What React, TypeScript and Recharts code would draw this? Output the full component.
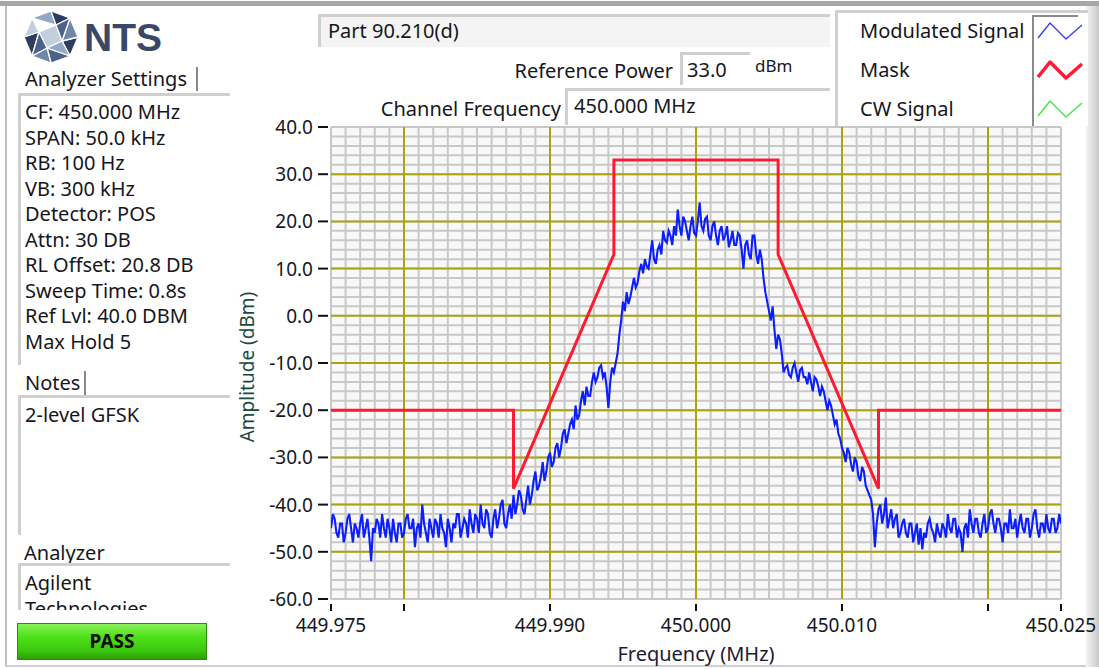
import { LineChart, Line, XAxis, YAxis, CartesianGrid } from 'recharts'

// sweep grid of the analyzer trace (MHz)
const SWEEP_START = 449.975
const SWEEP_STEP = 0.000125

// Max-hold trace, dBm, one value per sweep point
const modulatedSignal = [
  -45, -42, -43, -46, -47, -44, -44, -48, -46, -43,
  -42, -45, -48, -44, -45, -47, -44, -42, -47, -45,
  -43, -47, -52, -45, -46, -43, -44, -47, -42, -45,
  -47, -43, -45, -48, -43, -46, -48, -44, -44, -47,
  -46, -43, -42, -45, -45, -43, -49, -45, -44, -47,
  -40, -44, -46, -48, -43, -45, -47, -43, -44, -47,
  -42, -45, -46, -49, -43, -45, -48, -44, -45, -42,
  -42, -47, -45, -43, -44, -47, -41, -44, -46, -42,
  -43, -46, -40, -44, -45, -41, -42, -46, -47, -43,
  -41, -45, -43, -40, -39, -44, -45, -42, -40, -43,
  -38, -42, -40, -37, -38, -41, -42, -39, -36, -40,
  -38, -35, -33, -37, -36, -34, -31, -35, -33, -30,
  -29, -32, -31, -28, -27, -30, -28, -25, -24, -27,
  -25, -23, -22, -24, -19, -22, -21, -18, -16, -19,
  -15, -17, -17, -14, -12, -14, -13, -11, -10.5, -13,
  -12, -15, -19.5, -14, -11, -12, -10, -8, -4, -1,
  3, 1, 5, 2.5, 4, 6, 8, 6, 7, 9.5,
  11, 9, 12, 10.5, 10, 13, 16, 12, 11, 14,
  15, 13, 18, 16, 15.5, 18, 17, 15, 19, 17,
  22.5, 19, 17, 21, 20, 18, 16, 19, 21, 17.5,
  17, 20, 24, 19, 18, 20.5, 21, 17, 16, 19,
  20, 17, 15, 18, 19, 16, 17, 19, 14.5, 16,
  18, 15, 15, 17.5, 17, 14, 10, 15, 16, 13,
  12, 17, 17, 13, 11, 14, 12, 8, 5, 3,
  1, -1, 2, -3, -7, -4, -5, -8, -12, -11,
  -10.5, -12.5, -13, -11, -10, -12, -14, -11.5, -11, -13,
  -13, -14.5, -12, -14, -16, -13, -13.5, -15, -17, -15,
  -16, -18, -20, -18, -19, -21, -23, -22, -25, -26,
  -28, -29, -31, -28, -29, -31.5, -33, -30, -31, -34,
  -35, -32, -33, -36, -37, -38, -39, -42, -49, -44,
  -41, -40, -44, -42, -38.5, -45, -43, -41, -45, -43,
  -42, -47, -46, -44, -43, -46, -47, -44, -44, -48,
  -46, -44, -48.5, -45, -49.5, -46, -47, -44, -43, -45,
  -46, -48, -44, -46, -47, -44, -45, -47, -42, -45,
  -46, -43, -43, -47, -45, -46, -50, -45, -44, -47,
  -41, -44, -46, -43, -43, -46, -47, -44, -42, -46,
  -45, -42, -41, -44, -46, -43, -43, -45, -48, -44,
  -44, -46, -41, -45, -45, -43, -47, -44, -42, -45,
  -46, -43, -43, -47, -45, -42, -41, -45, -47, -44,
  -44, -46, -42, -45, -46, -43, -43, -46, -45, -42,
  -44,
]

// Part 90.210(d) mask
const maskFreq = [449.975, 449.9875, 449.9875, 449.994375, 449.994375, 450.005625, 450.005625, 450.0125, 450.0125, 450.025]
const maskLevel = [-20, -20, -36.6, 13, 33, 33, 13, -36.6, -20, -20]

const freqTicks = [449.975, 449.98, 449.99, 450.0, 450.01, 450.02, 450.025]
const freqTickLabels = ['449.975', '', '449.990', '450.000', '450.010', '', '450.025']
const ampTicks = [-60, -50, -40, -30, -20, -10, 0, 10, 20, 30, 40]
const majorFreq = [449.98, 449.99, 450.0, 450.01, 450.02]
const majorAmp = [-50, -40, -30, -20, -10, 0, 10, 20, 30]
const minorFreq = Array.from({ length: 51 }, (_, k) => +(449.975 + k * 0.001).toFixed(3))
const minorAmp = Array.from({ length: 51 }, (_, k) => -60 + k * 2)

const settings = [
  'CF: 450.000 MHz', 'SPAN: 50.0 kHz', 'RB: 100 Hz', 'VB: 300 kHz', 'Detector: POS',
  'Attn: 30 DB', 'RL Offset: 20.8 DB', 'Sweep Time: 0.8s', 'Ref Lvl: 40.0 DBM', 'Max Hold 5',
]

const signalData = modulatedSignal.map((v, i) => ({ f: +(SWEEP_START + i * SWEEP_STEP).toFixed(6), v }))
const maskData = maskFreq.map((f, i) => ({ f, v: maskLevel[i] }))

const FONT = '"Noto Sans", "Open Sans", sans-serif'
const INK = '#161620'
const BEVEL = '#cfcfcf'

const abs = (left: number, top: number, extra: React.CSSProperties = {}): React.CSSProperties => ({
  position: 'absolute', left, top, ...extra,
})

function FreqTick(props: any) {
  const { x, y, index } = props
  const label = freqTickLabels[index]
  return (
    <g>
      <line x1={x} x2={x} y1={y + 5} y2={y + 12} stroke="#111" strokeWidth={2} />
      {label && (
        <text x={x} y={y + 33} textAnchor="middle" fontSize={19} fontFamily={FONT} fill={INK}>
          {label}
        </text>
      )}
    </g>
  )
}

function AmpTick(props: any) {
  const { x, y, payload } = props
  return (
    <g>
      <line x1={x - 13} x2={x - 3} y1={y} y2={y} stroke="#111" strokeWidth={2} />
      <text x={x - 18} y={y} textAnchor="end" dominantBaseline="central" fontSize={19} fontFamily={FONT} fill={INK}>
        {Number(payload.value).toFixed(1)}
      </text>
    </g>
  )
}

function Logo() {
  const c = ['#2d3c63', '#6f88aa', '#c3cfdd', '#4b628a', '#93a8c4']
  // facets of the sphere, centred at 51,37
  const facets: [string, string][] = [
    ['78,37 70,56 62,41', c[0]],
    ['70,56 51,63 47,48', c[3]],
    ['51,63 32,56 47,48', c[1]],
    ['32,56 24,37 39,32', c[0]],
    ['24,37 32,18 39,32', c[2]],
    ['32,18 51,11 56,25', c[4]],
    ['51,11 70,18 56,25', c[0]],
    ['70,18 78,37 62,41', c[1]],
    ['62,41 47,48 39,32 56,25', c[2]],
    ['62,41 70,56 47,48', c[4]],
    ['39,32 32,56 47,48', c[3]],
    ['56,25 70,18 62,41', c[3]],
  ]
  return (
    <svg width={200} height={70} style={abs(0, 0)}>
      {facets.map(([p, fill], k) => (
        <polygon key={k} points={p} fill={fill} stroke="#fff" strokeWidth={1.3} strokeLinejoin="round" />
      ))}
      <text x={84} y={51} fontSize={39} fontWeight={700} fontFamily='"Liberation Sans", Arial, sans-serif' fill="#3a4868">NTS</text>
    </svg>
  )
}

function LegendIcon({ color, width, top }: { color: string; width: number; top: number }) {
  return (
    <svg width={48} height={22} style={abs(1036, top)}>
      <polyline points="2,18 14,3 30,19 46,5" fill="none" stroke={color} strokeWidth={width} strokeLinejoin="round" />
    </svg>
  )
}

export default function App() {
  const text: React.CSSProperties = { fontFamily: FONT, fontSize: 20, color: INK, lineHeight: '25.5px', whiteSpace: 'nowrap' }
  const box = (left: number, top: number, width: number, height: number, bg = '#fff'): React.CSSProperties =>
    abs(left, top, {
      width, height, background: bg, borderTop: `3px solid ${BEVEL}`, borderLeft: `3px solid ${BEVEL}`,
      boxSizing: 'border-box', overflow: 'hidden',
    })

  return (
    <div style={abs(0, 0, { width: 1099, height: 669, background: '#fff', overflow: 'hidden', ...text })}>
      {/* panel frame */}
      <div style={abs(0, 1, { width: 1099, height: 5, background: '#a7a7a7' })} />
      <div style={abs(5, 6, { width: 2, height: 660, background: '#bdbdbd' })} />
      <div style={abs(5, 665, { width: 1084, height: 2, background: '#cfcfcf' })} />
      <div style={abs(1086, 6, { width: 13, height: 661, background: 'linear-gradient(90deg,#f4f4f4,#c9c9c9)' })} />

      <Logo />

      {/* left column */}
      <div style={abs(22, 67, { height: 24, paddingLeft: 3, paddingRight: 9, borderRight: '2px solid #8a8a8a', lineHeight: '24px' })}>Analyzer Settings</div>
      <div style={box(18, 93, 212, 272)}>
        <div style={{ paddingTop: 3, paddingLeft: 4 }}>
          {settings.map((s) => <div key={s}>{s}</div>)}
        </div>
      </div>
      <div style={abs(22, 371, { height: 24, paddingLeft: 3, paddingRight: 4, borderRight: '2px solid #8a8a8a', lineHeight: '24px' })}>Notes</div>
      <div style={box(18, 395, 212, 140)}>
        <div style={{ paddingTop: 4, paddingLeft: 4 }}>2-level GFSK</div>
      </div>
      <div style={abs(24, 540)}>Analyzer</div>
      <div style={box(18, 563, 212, 47)}>
        <div style={{ paddingTop: 4, paddingLeft: 4 }}>
          <div>Agilent</div>
          <div>Technologies</div>
        </div>
      </div>
      <div
        style={abs(17, 623, {
          width: 190, height: 37, boxSizing: 'border-box', border: '1px solid #2c8c0c',
          background: 'linear-gradient(180deg,#8af25a 0%,#4fe21a 35%,#3cc80e 75%,#2c9e08 100%)',
          textAlign: 'center', lineHeight: '35px', fontWeight: 700, fontSize: 19, color: '#0a0a0a',
        })}
      >
        PASS
      </div>

      {/* header fields */}
      <div style={box(318, 14, 512, 33, '#f4f4f4')}>
        <div style={{ paddingLeft: 7, lineHeight: '28px' }}>Part 90.210(d)</div>
      </div>
      <div style={abs(470, 58, { width: 203, textAlign: 'right' })}>Reference Power</div>
      <div style={box(680, 52, 70, 33)}>
        <div style={{ paddingLeft: 4, lineHeight: '30px' }}>33.0</div>
      </div>
      <div style={abs(755, 53, { fontSize: 17 })}>dBm</div>
      <div style={abs(340, 96, { width: 221, textAlign: 'right' })}>Channel Frequency</div>
      <div style={box(565, 88, 265, 37)}>
        <div style={{ paddingLeft: 6, lineHeight: '30px' }}>450.000 MHz</div>
      </div>

      {/* legend */}
      <div style={box(835, 10, 253, 116)} />
      <div style={abs(860, 18)}>Modulated Signal</div>
      <div style={abs(860, 57)}>Mask</div>
      <div style={abs(860, 96)}>CW Signal</div>
      <div style={abs(1032, 15, { width: 44, height: 111, borderLeft: '2px solid #8a8a8a', borderTop: '2px solid #8a8a8a' })} />
      <LegendIcon color="#2a3cff" width={1.3} top={20} />
      <LegendIcon color="#ff1a36" width={3.5} top={59} />
      <LegendIcon color="#3ce83c" width={1.3} top={98} />

      {/* graph */}
      <div style={abs(0, 0)}>
        <LineChart width={1099} height={669} margin={{ top: 127, right: 38, bottom: 4, left: 241 }}>
          <CartesianGrid
            fill="#f8f8f8"
            stroke="#c8c8c8"
            strokeWidth={2}
            verticalValues={minorFreq}
            horizontalValues={minorAmp}
          />
          <CartesianGrid
            stroke="#aba40e"
            strokeWidth={2}
            verticalValues={majorFreq}
            horizontalValues={majorAmp}
          />
          <XAxis
            type="number"
            dataKey="f"
            domain={[449.975, 450.025]}
            ticks={freqTicks}
            interval={0}
            height={66}
            axisLine={false}
            tickLine={false}
            tickSize={0}
            tickMargin={0}
            tick={<FreqTick />}
            allowDataOverflow
            label={{
              content: ({ viewBox }: any) => (
                <text x={viewBox.x + viewBox.width / 2} y={viewBox.y + 62} textAnchor="middle" fontSize={20} fontFamily={FONT} fill="#1c1a36">
                  Frequency (MHz)
                </text>
              ),
            }}
          />
          <YAxis
            type="number"
            domain={[-60, 40]}
            ticks={ampTicks}
            interval={0}
            width={90}
            axisLine={false}
            tickLine={false}
            tickSize={0}
            tickMargin={0}
            tick={<AmpTick />}
            allowDataOverflow
            label={{
              content: ({ viewBox }: any) => {
                const cx = viewBox.x + 6
                const cy = viewBox.y + viewBox.height / 2 + 4
                return (
                  <text x={cx} y={cy} transform={`rotate(-90 ${cx} ${cy})`} textAnchor="middle" dominantBaseline="central" fontSize={19} fontFamily={FONT} fill="#1d4a40">
                    Amplitude (dBm)
                  </text>
                )
              },
            }}
          />
          <Line data={signalData} dataKey="v" type="linear" stroke="#0a1eff" strokeWidth={2.1} dot={false} isAnimationActive={false} />
          <Line data={maskData} dataKey="v" type="linear" stroke="#ff1a30" strokeWidth={3} dot={false} isAnimationActive={false} />
        </LineChart>
      </div>
    </div>
  )
}
